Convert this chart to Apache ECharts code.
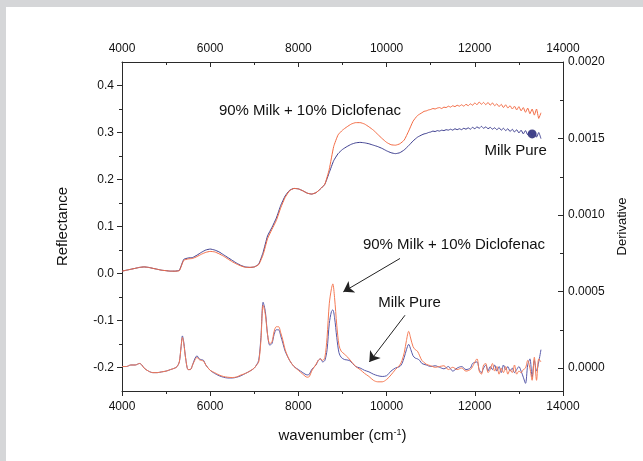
<!DOCTYPE html>
<html>
<head>
<meta charset="utf-8">
<script src="https://cdn.jsdelivr.net/npm/echarts@6/dist/echarts.min.js"></script>
<style>
  html, body { margin: 0; padding: 0; background: #d5d6d8; }
  #paper { position: absolute; left: 6px; top: 7px; width: 637px; height: 454px; background: #ffffff; }
  #chart { position: absolute; left: 0; top: 0; width: 643px; height: 461px; }
</style>
</head>
<body>
<div id="paper"></div>
<div id="chart"></div>
<script>
// ---- Reflectance spectra (left axis) ----
const reflX = [4000,4100,4200,4300,4400,4500,4600,4700,4800,4900,
  5000,5100,5200,5300,5400,5500,5600,5700,5800,5900,
  6000,6100,6200,6300,6400,6500,6600,6700,6800,6900,
  7000,7100,7200,7300,7400,7500,7600,7700,7800,7900,
  8000,8100,8200,8300,8400,8500,8600,8700,8800,8900,
  9000,9100,9200,9300,9400,9500,9600,9700,9800,9900,
  10000,10100,10200,10300,10400,10500,10600,10700,10800,
  10850,10900,10950,11000,11050,11100,11150,11200,11250,11300,
  11350,11400,11450,11500,11550,11600,11650,11700,11750,11800,
  11850,11900,11950,12000,12050,12100,12150,12200,12250,12300,
  12350,12400,12450,12500,12550,12600,12650,12700,12750,12800,
  12850,12900,12950,13000,13050,13100,13150,13200,13250,13300,
  13350,13400,13450,13500];
const reflPure = [0.005,0.007,0.009,0.011,0.013,0.014,0.013,0.011,0.009,0.007,
  0.006,0.005,0.005,0.007,0.030,0.033,0.034,0.039,0.045,0.050,
  0.052,0.050,0.046,0.040,0.034,0.028,0.022,0.017,0.014,0.013,
  0.014,0.020,0.045,0.080,0.098,0.118,0.145,0.165,0.177,0.181,
  0.180,0.176,0.171,0.169,0.172,0.180,0.190,0.215,0.240,0.255,
  0.264,0.270,0.275,0.278,0.279,0.278,0.276,0.273,0.270,0.266,
  0.261,0.257,0.255,0.257,0.263,0.272,0.282,0.290,0.295,
  0.297,0.298,0.300,0.301,0.303,0.302,0.304,0.303,0.305,0.304,
  0.306,0.305,0.307,0.305,0.308,0.306,0.308,0.306,0.309,0.307,
  0.310,0.307,0.311,0.308,0.312,0.309,0.313,0.309,0.312,0.308,
  0.311,0.307,0.310,0.306,0.310,0.305,0.309,0.304,0.308,0.302,
  0.307,0.301,0.306,0.299,0.305,0.297,0.304,0.295,0.303,0.293,
  0.302,0.290,0.300,0.287];
const reflMix = [0.005,0.007,0.009,0.011,0.013,0.014,0.013,0.011,0.009,0.007,
  0.006,0.005,0.005,0.006,0.028,0.031,0.032,0.036,0.041,0.045,
  0.047,0.046,0.042,0.037,0.031,0.025,0.020,0.016,0.013,0.013,
  0.014,0.019,0.040,0.074,0.094,0.113,0.140,0.162,0.176,0.181,
  0.180,0.176,0.171,0.169,0.172,0.180,0.190,0.222,0.270,0.295,
  0.305,0.312,0.318,0.321,0.321,0.318,0.312,0.305,0.296,0.287,
  0.279,0.274,0.273,0.276,0.284,0.303,0.324,0.336,0.342,
  0.345,0.346,0.348,0.349,0.351,0.350,0.352,0.353,0.351,0.354,
  0.353,0.356,0.354,0.357,0.355,0.358,0.356,0.359,0.356,0.360,
  0.357,0.361,0.358,0.363,0.359,0.365,0.360,0.364,0.359,0.364,
  0.358,0.363,0.357,0.361,0.355,0.360,0.353,0.359,0.352,0.357,
  0.350,0.356,0.348,0.355,0.346,0.353,0.343,0.352,0.340,0.350,
  0.337,0.350,0.330,0.342];

// ---- Derivative spectra (right axis) ----
const derX = [4000,4100,4200,4300,4400,4450,4500,4600,4700,4800,4900,
  5000,5100,5200,5250,5300,5340,5370,5400,5450,5500,5550,5600,5650,5700,5750,5800,5850,5900,
  6000,6100,6200,6300,6400,6500,6600,6700,6800,6900,
  7000,7050,7100,7150,7200,7250,7300,7350,7400,7450,7500,7550,7600,7650,7700,7800,7900,
  8000,8100,8200,8250,8300,8400,8450,8500,8550,8600,8650,8700,8750,8780,8820,8870,8920,8970,
  9050,9150,9300,9400,9500,9600,9700,9800,9900,
  10000,10100,10200,10300,10350,10400,10450,10500,10550,10600,10650,10700,10750,10800,10900,
  11000,11100,11200,11300,11400,11500,11600,11700,11800,11900,11950,
  12050,12100,12150,12200,12250,12300,12350,12400,12450,12500,12550,12600,12650,12700,12750,12800,12850,12900,12950,
  13000,13050,13100,13150,13200,13250,13300,13350,13400,13450,13500];
const derPure = [1e-5,1e-5,2e-5,2e-5,3e-5,2e-5,0,-2e-5,-3e-5,-3e-5,-2.5e-5,
  -2e-5,-1e-5,0,1e-5,4e-5,14e-5,21e-5,17e-5,5e-5,-1e-5,-1e-5,2e-5,6e-5,8e-5,6e-5,5.5e-5,5e-5,2e-5,
  -1.5e-5,-3.5e-5,-5e-5,-6e-5,-6.5e-5,-6.5e-5,-6e-5,-5e-5,-3.5e-5,-2e-5,
  0,2e-5,5e-5,20e-5,43e-5,37e-5,22e-5,15e-5,16e-5,22e-5,25e-5,25e-5,21e-5,16e-5,11e-5,5e-5,1e-5,
  -1e-5,-3e-5,-4.5e-5,-4e-5,-1e-5,2e-5,5e-5,6e-5,4e-5,5e-5,12e-5,29e-5,37e-5,38e-5,33e-5,20e-5,10e-5,7e-5,
  5.5e-5,5e-5,1e-5,0,-1.5e-5,-2.5e-5,-4e-5,-5e-5,-5.5e-5,
  -5e-5,-2e-5,0,1e-5,3e-5,7e-5,12e-5,15.5e-5,12e-5,8e-5,6.5e-5,6e-5,5e-5,3e-5,2e-5,
  1e-5,1.5e-5,0.5e-5,-0.5e-5,1e-5,-2e-5,0,1e-5,-1e-5,0,3e-5,
  4e-5,-1e-5,-3e-5,0,2e-5,-2e-5,1e-5,-1e-5,2e-5,-2e-5,1e-5,-3e-5,2e-5,-1e-5,1e-5,-2e-5,0,-3e-5,-1e-5,
  1e-5,-2e-5,-6e-5,-10e-5,2e-5,6e-5,-6e-5,5e-5,-2e-5,4e-5,12e-5];
const derMix = [1e-5,1e-5,2e-5,2e-5,3e-5,2e-5,0,-2e-5,-3e-5,-3e-5,-2.5e-5,
  -2e-5,-1e-5,0,1e-5,4e-5,14e-5,20e-5,16e-5,5e-5,-1e-5,-1e-5,2e-5,5e-5,7e-5,5.5e-5,5e-5,4.5e-5,2e-5,
  -1.5e-5,-3e-5,-4.5e-5,-5.5e-5,-6e-5,-6.2e-5,-5.8e-5,-4.5e-5,-3.5e-5,-2e-5,
  0,2e-5,4e-5,18e-5,41e-5,35e-5,22e-5,16e-5,17e-5,24e-5,27e-5,27e-5,23e-5,18e-5,12e-5,5e-5,1e-5,
  -1.5e-5,-4e-5,-6e-5,-5.5e-5,-2e-5,2.5e-5,5e-5,6e-5,5e-5,7e-5,20e-5,42e-5,52e-5,55e-5,46e-5,28e-5,15e-5,11e-5,
  9e-5,6e-5,1e-5,-1e-5,-3.5e-5,-5.5e-5,-8e-5,-9e-5,-9e-5,
  -7.5e-5,-4.5e-5,-1e-5,2e-5,5e-5,10e-5,18e-5,24e-5,19e-5,14e-5,12e-5,11e-5,8e-5,5e-5,2.5e-5,
  1.5e-5,0.5e-5,1e-5,1.5e-5,-1e-5,0.5e-5,-1e-5,0,-2e-5,-1e-5,1e-5,
  6e-5,-2e-5,-4e-5,2e-5,3e-5,-3e-5,-1e-5,3e-5,-2e-5,1e-5,-4e-5,0,-3e-5,1e-5,-4e-5,-1e-5,-3e-5,2e-5,-4e-5,
  -2e-5,-3e-5,-1e-5,0,5e-5,0,-8e-5,7e-5,-8e-5,6e-5,4e-5];

// ---- Tick labels ----
const xTickLabels = [4000,6000,8000,10000,12000,14000];
const reflTicks = [-0.2,-0.1,0.0,0.1,0.2,0.3,0.4];
const reflMinorTicks = [-0.15,-0.05,0.05,0.15,0.25,0.35];
const derTicks = [0,0.0005,0.0010,0.0015,0.0020];
const derMinorTicks = [0.00025,0.00075,0.00125,0.00175];

// ---- Annotations (data coordinates: wavenumber, reflectance) ----
const annoText = ['90% Milk + 10% Diclofenac','Milk Pure','90% Milk + 10% Diclofenac','Milk Pure'];
const annoX = [8263,12927,11528,10519];
const annoY = [0.3456,0.2604,0.0603,-0.0626];
const arrowFrom = [[10304,0.032],[10417,-0.0888]];
const arrowTo = [[9018,-0.039],[9608,-0.1883]];
const dotPoint = [13300,0.297];

const zip = (xs, ys) => xs.map((x, i) => [x, ys[i]]);
const FONT = '"Liberation Sans", Arial, Helvetica, sans-serif';
const TXT = '#111111';
const AXC = '#2a2a2a';

const chart = echarts.init(document.getElementById('chart'), null, {renderer: 'canvas'});

const baseX = {
  type: 'value', min: 4000, max: 14000, interval: 2000,
  axisLine: {show: true, onZero: false, lineStyle: {color: AXC, width: 1}},
  axisTick: {show: true, length: 5, lineStyle: {color: AXC}},
  minorTick: {show: true, splitNumber: 2, length: 3, lineStyle: {color: AXC}},
  splitLine: {show: false},
  axisLabel: {color: TXT, fontSize: 12, fontFamily: FONT, formatter: v => String(v),
    customValues: xTickLabels}
};

const option = {
  animation: false,
  backgroundColor: 'transparent',
  textStyle: {fontFamily: FONT},
  grid: {left: 122, top: 62, right: 80, bottom: 70, containLabel: false},
  xAxis: [
    Object.assign({}, baseX, {
      position: 'bottom',
      axisLabel: Object.assign({}, baseX.axisLabel, {margin: 10}),
      name: 'wavenumber (cm{sup|-1})',
      nameLocation: 'middle', nameGap: 37,
      nameTextStyle: {color: TXT, fontSize: 15, fontFamily: FONT,
        rich: {sup: {fontSize: 9, verticalAlign: 'top', color: TXT, fontFamily: FONT, padding: [0, 0, 6, 0]}}}
    }),
    Object.assign({}, baseX, {
      position: 'top',
      axisTick: Object.assign({}, baseX.axisTick, {inside: true}),
      axisLabel: Object.assign({}, baseX.axisLabel, {margin: 7})
    })
  ],
  yAxis: [
    {
      type: 'value', position: 'left', min: -0.25, max: 0.45,
      axisLine: {show: true, onZero: false, lineStyle: {color: AXC, width: 1}},
      axisTick: {show: true, length: 5, customValues: reflTicks, lineStyle: {color: AXC}},
      axisLabel: {customValues: reflTicks, color: TXT, fontSize: 12, fontFamily: FONT, margin: 8,
        formatter: v => v.toFixed(1)},
      splitLine: {show: false},
      name: 'Reflectance', nameLocation: 'middle', nameGap: 52, nameRotate: 90,
      nameTextStyle: {color: TXT, fontSize: 15, fontFamily: FONT}
    },
    {
      type: 'value', position: 'right', min: -0.00015, max: 0.002,
      axisLine: {show: true, onZero: false, lineStyle: {color: AXC, width: 1}},
      axisTick: {show: true, inside: true, length: 5, customValues: derTicks, lineStyle: {color: AXC}},
      axisLabel: {customValues: derTicks, color: TXT, fontSize: 12, fontFamily: FONT, margin: 5,
        formatter: v => v.toFixed(4)},
      splitLine: {show: false},
      name: 'Derivative', nameLocation: 'middle', nameGap: 53, nameRotate: 90,
      nameTextStyle: {color: TXT, fontSize: 13, fontFamily: FONT}
    },
    {
      type: 'value', position: 'left', min: -0.25, max: 0.45,
      axisLine: {show: false, onZero: false},
      axisTick: {show: true, length: 3, customValues: reflMinorTicks, lineStyle: {color: AXC}},
      axisLabel: {show: false, customValues: reflMinorTicks},
      splitLine: {show: false}
    },
    {
      type: 'value', position: 'right', min: -0.00015, max: 0.002,
      axisLine: {show: false, onZero: false},
      axisTick: {show: true, inside: true, length: 3, customValues: derMinorTicks, lineStyle: {color: AXC}},
      axisLabel: {show: false, customValues: derMinorTicks},
      splitLine: {show: false}
    }
  ],
  series: [
    {
      name: 'Milk Pure (reflectance)', type: 'line', xAxisIndex: 0, yAxisIndex: 0,
      data: zip(reflX, reflPure), showSymbol: false, smooth: 0.15,
      lineStyle: {color: '#3c3d8e', width: 1}, itemStyle: {color: '#3c3d8e'}
    },
    {
      name: '90% Milk + 10% Diclofenac (reflectance)', type: 'line', xAxisIndex: 0, yAxisIndex: 0,
      data: zip(reflX, reflMix), showSymbol: false, smooth: 0.15,
      lineStyle: {color: '#f26a43', width: 1}, itemStyle: {color: '#f26a43'}
    },
    {
      name: 'Milk Pure (derivative)', type: 'line', xAxisIndex: 0, yAxisIndex: 1,
      data: zip(derX, derPure), showSymbol: false, smooth: 0.3,
      lineStyle: {color: '#5658a8', width: 1}, itemStyle: {color: '#5658a8'}
    },
    {
      name: '90% Milk + 10% Diclofenac (derivative)', type: 'line', xAxisIndex: 0, yAxisIndex: 1,
      data: zip(derX, derMix), showSymbol: false, smooth: 0.3,
      lineStyle: {color: '#f47a55', width: 1}, itemStyle: {color: '#f47a55'}
    },
    {
      name: 'marker', type: 'scatter', xAxisIndex: 0, yAxisIndex: 0,
      data: [dotPoint], symbolSize: 9, itemStyle: {color: '#16186a'}
    },
    {
      name: 'annotations', type: 'scatter', xAxisIndex: 0, yAxisIndex: 0,
      symbolSize: 0.01, itemStyle: {color: TXT, opacity: 1}, silent: true,
      data: annoText.map((t, i) => ({name: t, value: [annoX[i], annoY[i]]})),
      label: {show: true, position: 'inside', formatter: p => p.name,
        color: TXT, opacity: 1, fontSize: 15, fontFamily: FONT},
      markLine: {
        silent: true, symbol: ['none', 'arrow'], symbolSize: 10,
        lineStyle: {color: '#222222', width: 1, type: 'solid'},
        label: {show: false},
        data: arrowFrom.map((p, i) => [{coord: p}, {coord: arrowTo[i]}])
      }
    }
  ]
};
chart.setOption(option);
</script>
</body>
</html>
